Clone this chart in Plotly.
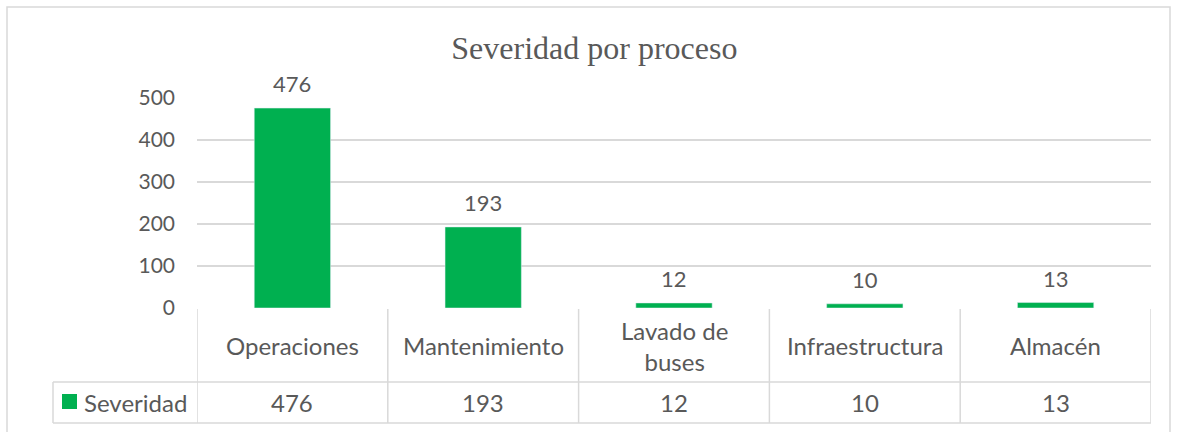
import plotly.graph_objects as go

procesos = ["Operaciones", "Mantenimiento", "Lavado de buses", "Infraestructura", "Almacén"]
etiquetas = ["Operaciones", "Mantenimiento", "Lavado de<br>buses", "Infraestructura", "Almacén"]
severidad = [476, 193, 12, 10, 13]
ticks_y = [0, 100, 200, 300, 400, 500]

verde = "#00B050"
gris_txt = "#595959"
gris_lin = "#D9D9D9"
fuente = "Lato"

W, H = 1177, 432
# table rows in paper units
fila1_top, fila1_bot, fila2_bot = 1 - 309 / H, 1 - 382 / H, 1 - 423 / H
fila1_mid = (fila1_top + fila1_bot) / 2
fila2_mid = (fila1_bot + fila2_bot) / 2

fig = go.Figure(go.Bar(x=list(range(len(procesos))), y=severidad, marker_color=verde,
                       width=0.4, showlegend=False, cliponaxis=False))

linea = dict(color=gris_lin, width=1.5)
shapes = []
anns = []
# outer chart border
shapes.append(dict(type="rect", xref="paper", yref="paper", x0=7 / W, x1=1170 / W,
                   y0=-0.05, y1=1 - 7 / H, line=linea))
# table lines
for i in range(len(procesos) + 1):
    shapes.append(dict(type="line", xref="x", yref="paper", x0=i - 0.5, x1=i - 0.5,
                       y0=fila2_bot, y1=fila1_top, line=linea))
shapes.append(dict(type="line", xref="paper", yref="paper", x0=53 / W, x1=53 / W,
                   y0=fila2_bot, y1=fila1_bot, line=linea))
for yy in (fila1_bot, fila2_bot):
    shapes.append(dict(type="line", xref="paper", yref="paper", x0=53 / W, x1=1151 / W,
                       y0=yy, y1=yy, line=linea))
# legend key
shapes.append(dict(type="rect", xref="paper", yref="paper", x0=62 / W, x1=77 / W,
                   y0=1 - 409 / H, y1=1 - 394 / H, fillcolor=verde, line=dict(width=0)))
anns.append(dict(x=82 / W, y=fila2_mid, xref="paper", yref="paper", text="Severidad",
                 showarrow=False, xanchor="left", yanchor="middle"))

for i, (lab, v) in enumerate(zip(etiquetas, severidad)):
    anns.append(dict(x=i, y=fila1_mid, xref="x", yref="paper", text=lab, showarrow=False,
                     yanchor="middle"))
    anns.append(dict(x=i, y=fila2_mid, xref="x", yref="paper", text=str(v), showarrow=False,
                     yanchor="middle"))
    anns.append(dict(x=i, y=v, xref="x", yref="y", text=str(v), showarrow=False,
                     yanchor="bottom", yshift=9, font=dict(size=22)))

fig.update_layout(
    width=W, height=H, margin=dict(l=0, r=0, t=0, b=0, autoexpand=False),
    paper_bgcolor="white", plot_bgcolor="white",
    font=dict(family=fuente, size=24, color=gris_txt),
    title=dict(text="Severidad por proceso", x=0.505, xanchor="center", y=1 - 48 / H, yanchor="middle",
               font=dict(family="Liberation Serif", size=32, color=gris_txt)),
    xaxis=dict(domain=[197 / W, 1151 / W], range=[-0.5, len(procesos) - 0.5],
               showticklabels=False, showgrid=False, zeroline=False, automargin=False),
    yaxis=dict(domain=[1 - 308 / H, 1 - 98 / H], range=[0, 500], tickvals=ticks_y,
               showgrid=True, gridcolor=gris_lin, gridwidth=1.5, zeroline=False,
               ticklabelstandoff=21, automargin=False, tickfont=dict(size=21)),
    shapes=shapes, annotations=anns, bargap=0.6,
)

fig.write_html("out.html", config={"displayModeBar": False},
               post_script="document.body.style.margin='0';")
